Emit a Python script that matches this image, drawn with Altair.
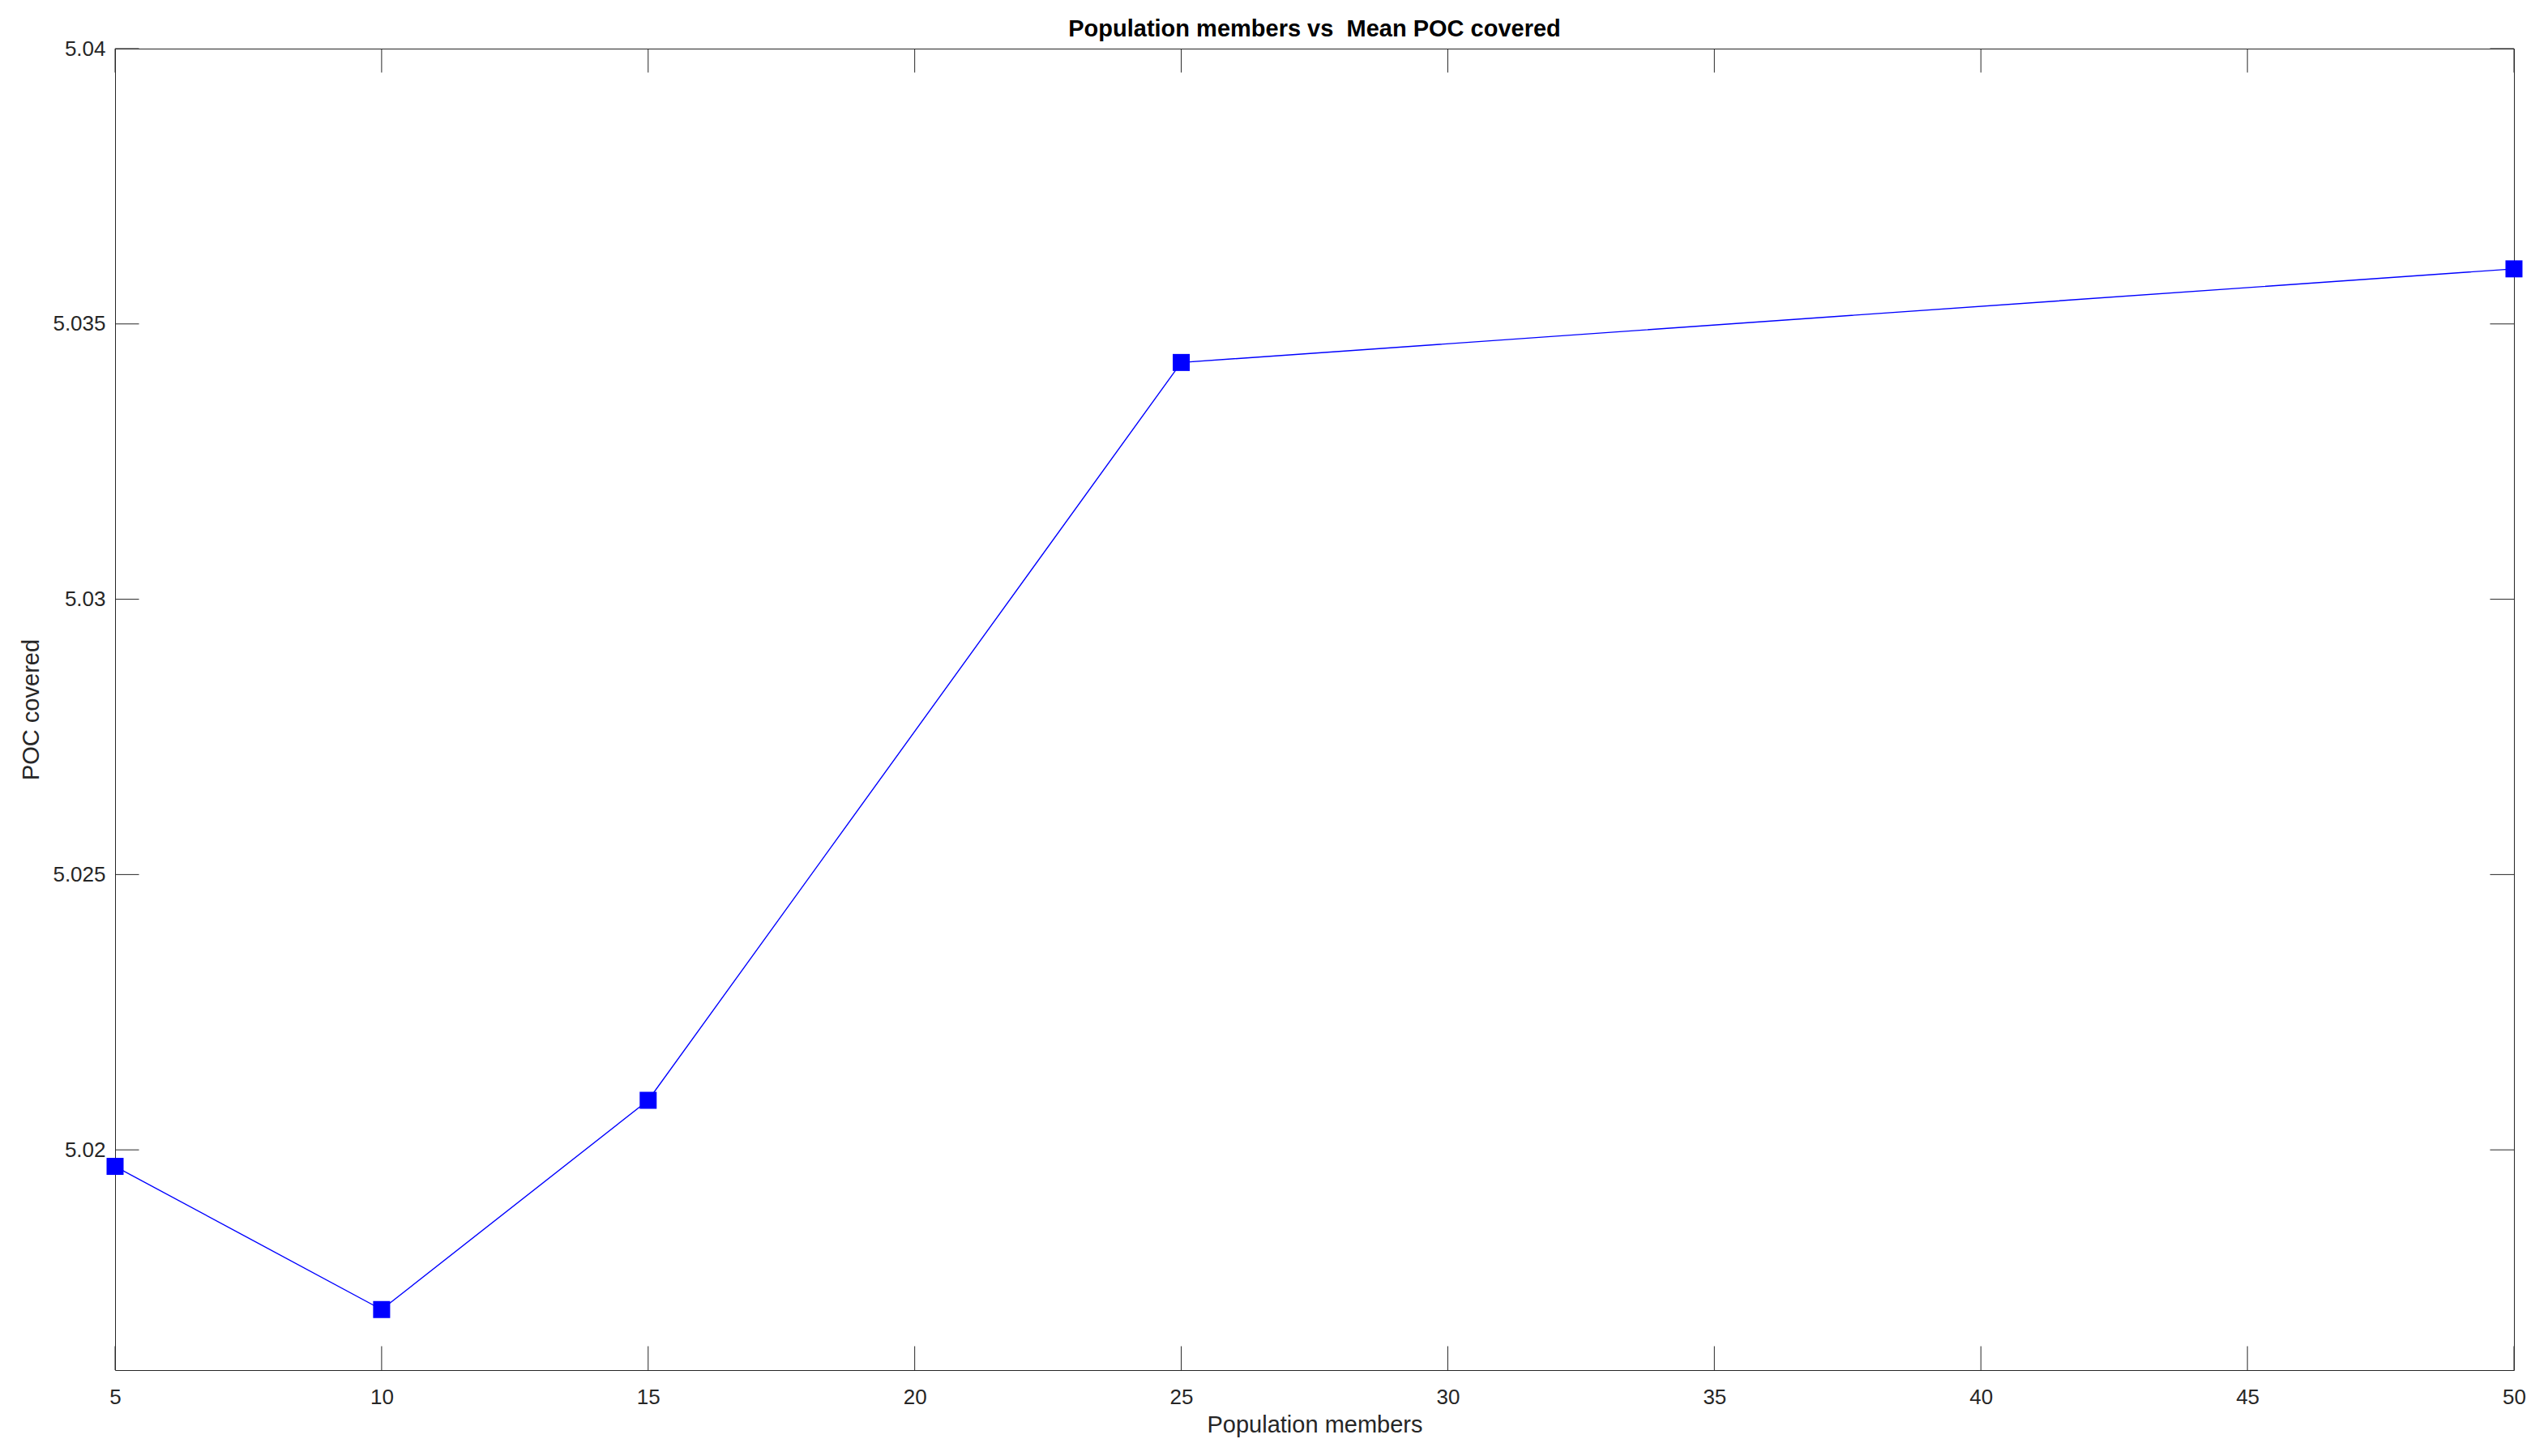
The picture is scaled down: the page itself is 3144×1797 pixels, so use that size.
import altair as alt
import pandas as pd

# ---- data ----
members = [5, 10, 15, 25, 50]
poc_covered = [5.0197, 5.0171, 5.0209, 5.0343, 5.0360]
x_ticks = [5, 10, 15, 20, 25, 30, 35, 40, 45, 50]
y_ticks = [5.02, 5.025, 5.03, 5.035, 5.04]
x_domain = [5, 50]
y_domain = [5.016, 5.04]
title_text = "Population members vs\u00a0 Mean POC covered"
x_title = "Population members"
y_title = "POC covered"

W, H = 2960, 1631
TICK = 29.5
AX = "#262626"
FONT = "Liberation Sans"
BLUE = "#0000ff"

df = pd.DataFrame({"members": members, "poc": poc_covered})
xt = pd.DataFrame({"members": x_ticks})
yt = pd.DataFrame({"poc": y_ticks})

xscale = alt.Scale(domain=x_domain, nice=False, zero=False)
yscale = alt.Scale(domain=y_domain, nice=False, zero=False)

xaxis = alt.Axis(
    values=x_ticks, format="d", grid=False, ticks=False, tickSize=0, domain=False,
    labelFlush=False, labelOverlap=False, labelPadding=20, labelFontSize=26,
    labelFont=FONT, labelColor=AX, labelBaseline="top",
    title=x_title, titleFont=FONT, titleFontSize=29, titleFontWeight="normal",
    titleColor=AX, titleX=W / 2, titleY=76, titleBaseline="alphabetic", titleAlign="center",
)
yaxis = alt.Axis(
    values=y_ticks, format=".3~f", grid=False, ticks=False, tickSize=0, domain=False,
    labelFlush=False, labelOverlap=False, labelPadding=12, labelFontSize=26,
    labelFont=FONT, labelColor=AX, labelBaseline="middle",
    title=y_title, titleFont=FONT, titleFontSize=29, titleFontWeight="normal",
    titleColor=AX, titleX=-95, titleY=H / 2, titleAngle=270,
    titleBaseline="alphabetic", titleAlign="center",
)

X = alt.X("members:Q", scale=xscale, axis=xaxis)
Y = alt.Y("poc:Q", scale=yscale, axis=yaxis)

line = alt.Chart(df).mark_line(color=BLUE, strokeWidth=1.4).encode(x=X, y=Y)
points = alt.Chart(df).mark_point(
    shape="square", filled=True, size=441, color=BLUE, opacity=1
).encode(x=X, y=Y)

bottom_ticks = alt.Chart(xt).mark_rule(color=AX, strokeWidth=1).encode(
    x=X, y=alt.value(H), y2=alt.value(H - TICK))
top_ticks = alt.Chart(xt).mark_rule(color=AX, strokeWidth=1).encode(
    x=X, y=alt.value(0), y2=alt.value(TICK))
left_ticks = alt.Chart(yt).mark_rule(color=AX, strokeWidth=1).encode(
    y=Y, x=alt.value(0), x2=alt.value(TICK))
right_ticks = alt.Chart(yt).mark_rule(color=AX, strokeWidth=1).encode(
    y=Y, x=alt.value(W), x2=alt.value(W - TICK))

chart = alt.layer(
    bottom_ticks, top_ticks, left_ticks, right_ticks, line, points
).properties(
    width=W, height=H, background="white",
    title=alt.TitleParams(title_text, font=FONT, fontSize=29, fontWeight="bold",
                          color="#000000", anchor="middle", frame="group",
                          baseline="alphabetic", offset=19, dy=46),
    autosize=alt.AutoSizeParams(type="none"),
    padding={"left": 134, "top": 52, "right": 30, "bottom": 90},
).configure_view(
    stroke=AX, strokeWidth=1
)

chart.save("out.html", embed_options={"renderer": "svg", "actions": False})
